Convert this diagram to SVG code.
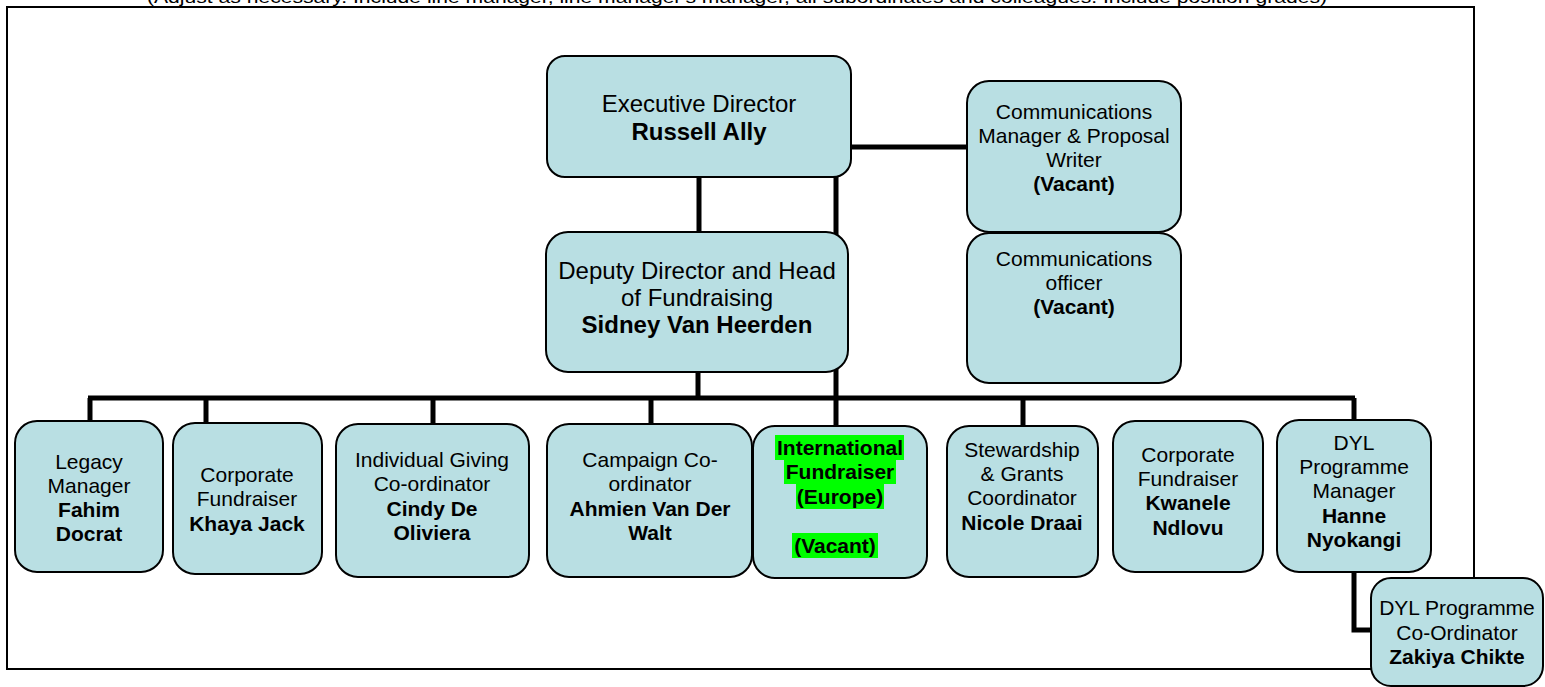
<svg xmlns="http://www.w3.org/2000/svg" width="1545" height="687" viewBox="0 0 1545 687">
<style>
text{font-family:"Liberation Sans",Arial,sans-serif;fill:#000;text-anchor:middle}
.box{fill:#B9DFE3;stroke:#000;stroke-width:2}
.t{font-size:21px}
.L{font-size:24px}
.b{font-weight:bold}
.con{stroke:#000;stroke-width:5;fill:none}
.hl{fill:#00FF00}
</style>
<rect width="1545" height="687" fill="#fff"/>
<text x="737" y="3" style="font-size:17px" textLength="1180" lengthAdjust="spacingAndGlyphs">(Adjust as necessary. Include line manager, line manager's manager, all subordinates and colleagues. Include position grades)</text>
<rect id="frame" x="7" y="7" width="1467" height="662" fill="none" stroke="#000" stroke-width="2"/>
<g id="connectors">
<path class="con" d="M851 147H967"/>
<path class="con" d="M699 177V232"/>
<path class="con" d="M836 177V426"/>
<path class="con" d="M698 372V398"/>
<path class="con" d="M88 398H1355"/>
<path class="con" d="M90 398V421"/>
<path class="con" d="M206 398V423"/>
<path class="con" d="M433 398V424"/>
<path class="con" d="M651 398V424"/>
<path class="con" d="M1023 398V426"/>
<path class="con" d="M1354 398V420"/>
<path class="con" d="M1354 572V630H1371"/>
</g>
<g id="exec"><rect class="box" x="547" y="56" width="304" height="121" rx="18"/>
<text class="L" x="699" y="112">Executive Director</text><text class="L b" x="699" y="140">Russell Ally</text></g>
<g id="comm-manager"><rect class="box" x="967" y="81" width="214" height="151" rx="22"/>
<text class="t" x="1074" y="119">Communications</text><text class="t" x="1074" y="143">Manager &amp; Proposal</text><text class="t" x="1074" y="167">Writer</text><text class="t b" x="1074" y="191">(Vacant)</text></g>
<g id="comm-officer"><rect class="box" x="967" y="233" width="214" height="150" rx="22"/>
<text class="t" x="1074" y="266">Communications</text><text class="t" x="1074" y="290">officer</text><text class="t b" x="1074" y="314">(Vacant)</text></g>
<g id="deputy"><rect class="box" x="546" y="232" width="302" height="140" rx="22"/>
<text class="L" x="697" y="279">Deputy Director and Head</text><text class="L" x="697" y="306">of Fundraising</text><text class="L b" x="697" y="333">Sidney Van Heerden</text></g>
<g id="legacy"><rect class="box" x="15" y="421" width="148" height="151" rx="22"/>
<text class="t" x="89" y="469">Legacy</text><text class="t" x="89" y="493">Manager</text><text class="t b" x="89" y="517">Fahim</text><text class="t b" x="89" y="541">Docrat</text></g>
<g id="khaya"><rect class="box" x="173" y="423" width="149" height="151" rx="22"/>
<text class="t" x="247" y="482">Corporate</text><text class="t" x="247" y="506">Fundraiser</text><text class="t b" x="247" y="531">Khaya Jack</text></g>
<g id="cindy"><rect class="box" x="336" y="424" width="193" height="153" rx="22"/>
<text class="t" x="432" y="467">Individual Giving</text><text class="t" x="432" y="491">Co-ordinator</text><text class="t b" x="432" y="516">Cindy De</text><text class="t b" x="432" y="540">Oliviera</text></g>
<g id="ahmien"><rect class="box" x="547" y="424" width="205" height="153" rx="22"/>
<text class="t" x="650" y="467">Campaign Co-</text><text class="t" x="650" y="491">ordinator</text><text class="t b" x="650" y="516">Ahmien Van Der</text><text class="t b" x="650" y="540">Walt</text></g>
<g id="international"><rect class="box" x="753" y="426" width="174" height="152" rx="22"/>
<rect class="hl" x="775" y="435" width="129" height="25"/><rect class="hl" x="784" y="460" width="112" height="24"/><rect class="hl" x="796" y="484" width="88" height="25"/><rect class="hl" x="792" y="533" width="86" height="25"/>
<text class="t b" x="840" y="455">International</text><text class="t b" x="840" y="479">Fundraiser</text><text class="t b" x="840" y="504">(Europe)</text><text class="t b" x="835" y="553">(Vacant)</text></g>
<g id="stewardship"><rect class="box" x="947" y="426" width="151" height="151" rx="22"/>
<text class="t" x="1022" y="457">Stewardship</text><text class="t" x="1022" y="481">&amp; Grants</text><text class="t" x="1022" y="505">Coordinator</text><text class="t b" x="1022" y="530">Nicole Draai</text></g>
<g id="kwanele"><rect class="box" x="1113" y="421" width="150" height="151" rx="22"/>
<text class="t" x="1188" y="462">Corporate</text><text class="t" x="1188" y="486">Fundraiser</text><text class="t b" x="1188" y="510">Kwanele</text><text class="t b" x="1188" y="535">Ndlovu</text></g>
<g id="dyl-manager"><rect class="box" x="1277" y="420" width="154" height="152" rx="22"/>
<text class="t" x="1354" y="450">DYL</text><text class="t" x="1354" y="474">Programme</text><text class="t" x="1354" y="498">Manager</text><text class="t b" x="1354" y="523">Hanne</text><text class="t b" x="1354" y="547">Nyokangi</text></g>
<g id="dyl-coordinator"><rect class="box" x="1371" y="578" width="172" height="108" rx="20"/>
<text class="t" x="1457" y="615">DYL Programme</text><text class="t" x="1457" y="640">Co-Ordinator</text><text class="t b" x="1457" y="664">Zakiya Chikte</text></g>
</svg>
